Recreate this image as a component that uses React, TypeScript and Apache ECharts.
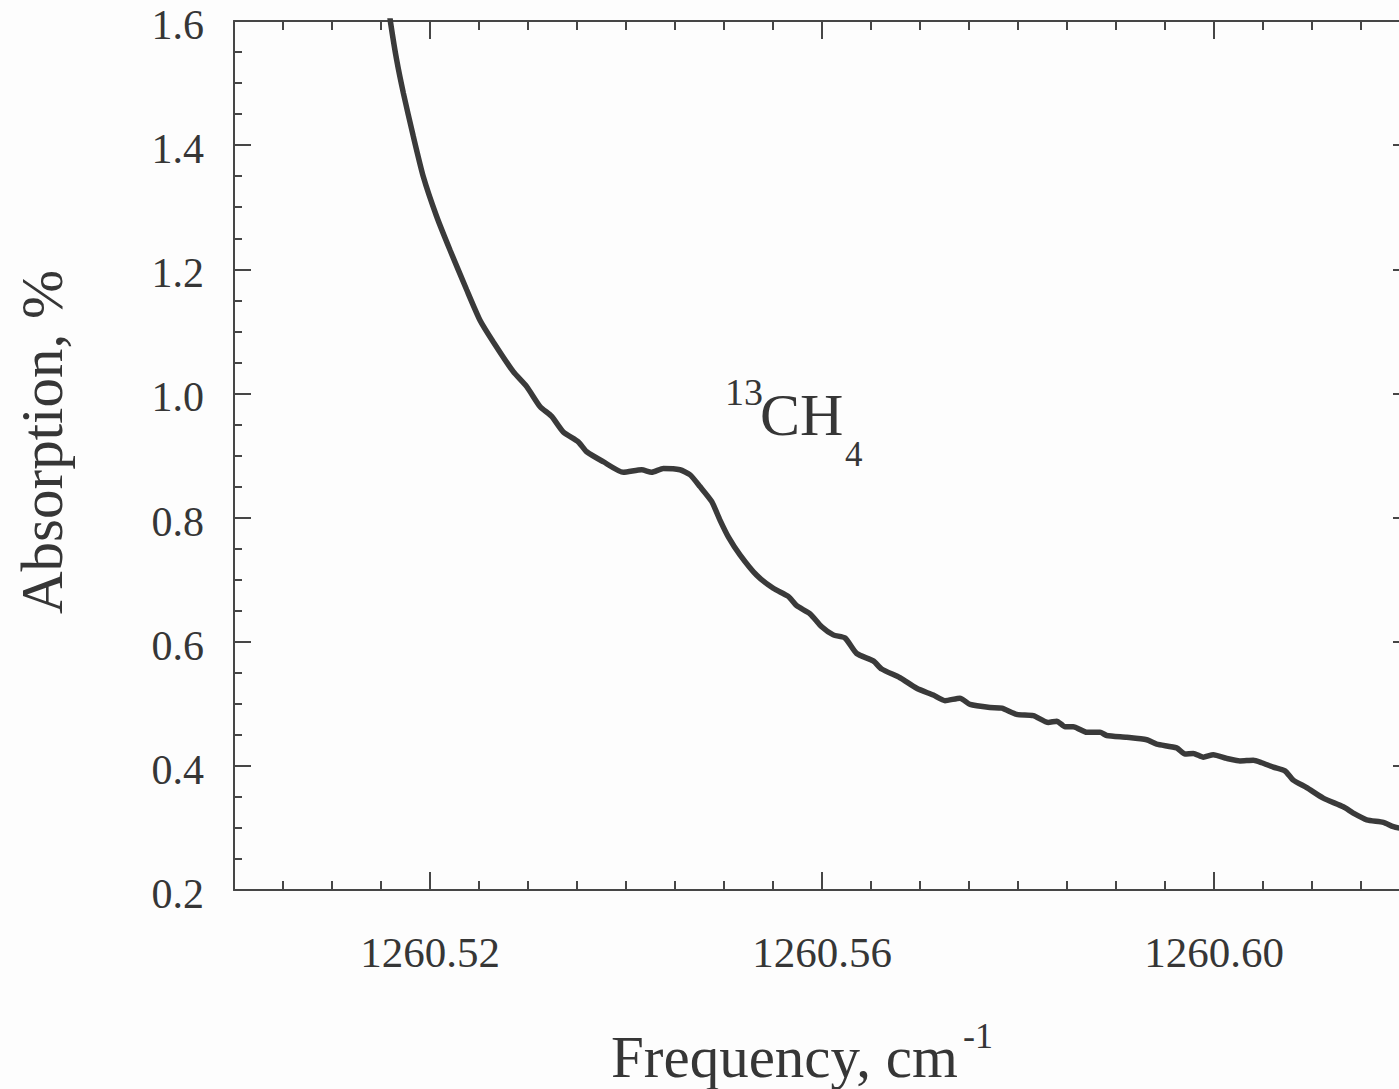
import React, { useEffect, useRef } from "react";
import * as echarts from "echarts";

// Frequency (cm^-1) and absorption (%)
const frequency = [
  1260.51582, 1260.51599, 1260.5166, 1260.51728, 1260.5183, 1260.51932, 1260.52068, 1260.52204,
  1260.52374, 1260.5251, 1260.52646, 1260.5285, 1260.52987, 1260.53122, 1260.53242, 1260.5336,
  1260.53513, 1260.53599, 1260.53768, 1260.53973, 1260.5416, 1260.54262, 1260.54381, 1260.54551,
  1260.54653, 1260.54755, 1260.54874, 1260.54959, 1260.55044, 1260.55163, 1260.55334, 1260.55503,
  1260.55656, 1260.55742, 1260.55878, 1260.55997, 1260.56115, 1260.56235, 1260.56354, 1260.56523,
  1260.56609, 1260.56796, 1260.56966, 1260.57136, 1260.57255, 1260.57408, 1260.5751, 1260.57714,
  1260.57834, 1260.57987, 1260.58156, 1260.58309, 1260.58395, 1260.5848, 1260.58564, 1260.58701,
  1260.58837, 1260.58905, 1260.59109, 1260.59313, 1260.59415, 1260.59619, 1260.59704, 1260.59789,
  1260.59891, 1260.59993, 1260.6013, 1260.60265, 1260.60401, 1260.60487, 1260.60605, 1260.60724,
  1260.60809, 1260.60946, 1260.61115, 1260.61319, 1260.61421, 1260.61558, 1260.61728, 1260.6183,
  1260.61949,
];
const absorption = [
  1.618, 1.596, 1.537, 1.484, 1.414, 1.349, 1.285, 1.231,
  1.167, 1.118, 1.083, 1.035, 1.011, 0.979, 0.963, 0.938,
  0.922, 0.906, 0.89, 0.873, 0.877, 0.873, 0.879, 0.877,
  0.869, 0.85, 0.826, 0.796, 0.769, 0.74, 0.707, 0.686,
  0.673, 0.658, 0.645, 0.624, 0.611, 0.606, 0.581, 0.569,
  0.556, 0.542, 0.525, 0.514, 0.505, 0.509, 0.499, 0.494,
  0.493, 0.483, 0.481, 0.47, 0.472, 0.463, 0.463, 0.454,
  0.454, 0.449, 0.446, 0.442, 0.435, 0.429, 0.419, 0.42,
  0.414, 0.418, 0.412, 0.408, 0.409, 0.405, 0.398, 0.392,
  0.377, 0.365, 0.348, 0.334, 0.324, 0.313, 0.309, 0.302,
  0.298,
];

const xMin = 1260.5;
const xMax = 1260.62;
const xLabelTicks = [1260.52, 1260.56, 1260.6];
const yMin = 0.2;
const yMax = 1.6;

const FONT = "'Liberation Serif', 'Times New Roman', serif";
const INK = "#363636";
const AXIS = "#464646";

export default function App() {
  const ref = useRef<HTMLDivElement>(null);

  useEffect(() => {
    if (!ref.current) return;
    const chart = echarts.init(ref.current, undefined, { renderer: "svg" });

    const axisLine = { show: true, lineStyle: { color: AXIS, width: 2 } };
    const minorX = (position: "bottom" | "top") => ({
      type: "value",
      position,
      min: xMin,
      max: xMax,
      interval: 0.005,
      axisLine,
      axisTick: { show: true, inside: true, length: 9, lineStyle: { color: AXIS, width: 2 } },
      axisLabel: { show: false },
      splitLine: { show: false },
    });
    const majorX = (position: "bottom" | "top", labels: boolean) => ({
      type: "value",
      position,
      min: xMin,
      max: xMax,
      axisLine: { show: false },
      axisTick: {
        show: true,
        inside: true,
        length: 18,
        customValues: xLabelTicks,
        lineStyle: { color: AXIS, width: 2 },
      },
      axisLabel: {
        show: labels,
        customValues: xLabelTicks,
        formatter: (v: number) => v.toFixed(2),
        margin: 41,
        fontSize: 43,
        fontFamily: FONT,
        color: INK,
      },
      splitLine: { show: false },
    });
    const minorY = (position: "left" | "right") => ({
      type: "value",
      position,
      min: yMin,
      max: yMax,
      interval: 0.05,
      axisLine,
      axisTick: { show: true, inside: true, length: 8, lineStyle: { color: AXIS, width: 2 } },
      axisLabel: { show: false },
      splitLine: { show: false },
    });
    const majorY = (position: "left" | "right", labels: boolean) => ({
      type: "value",
      position,
      min: yMin,
      max: yMax,
      interval: 0.2,
      axisLine: { show: false },
      axisTick: { show: true, inside: true, length: 17, lineStyle: { color: AXIS, width: 2 } },
      axisLabel: {
        show: labels,
        formatter: (v: number) => v.toFixed(1),
        margin: 30,
        fontSize: 42,
        verticalAlign: "top",
        lineHeight: 8,
        fontFamily: FONT,
        color: INK,
      },
      splitLine: { show: false },
    });

    chart.setOption({
      animation: false,
      backgroundColor: "#fdfdfd",
      grid: { left: 234, right: 1, top: 21, bottom: 199, containLabel: false },
      xAxis: [minorX("bottom"), majorX("bottom", true), minorX("top"), majorX("top", false)],
      yAxis: [minorY("left"), majorY("left", true), minorY("right"), majorY("right", false)],
      series: [
        {
          type: "line",
          xAxisIndex: 0,
          yAxisIndex: 0,
          data: frequency.map((f, i) => [f, absorption[i]]),
          showSymbol: false,
          smooth: 0.2,
          clip: true,
          lineStyle: { color: "#3a3a3a", width: 5.5 },
        },
      ],
      graphic: [
        {
          type: "text",
          x: 42,
          y: 442,
          rotation: Math.PI / 2,
          style: {
            text: "Absorption, %",
            font: `59px ${FONT}`,
            fill: INK,
            textAlign: "center",
            textVerticalAlign: "middle",
          },
        },
        {
          type: "text",
          x: 611,
          y: 1057,
          style: {
            text: "Frequency, cm",
            font: `59px ${FONT}`,
            fill: INK,
            textAlign: "left",
            textVerticalAlign: "middle",
          },
        },
        {
          type: "text",
          x: 963,
          y: 1036,
          style: {
            text: "-1",
            font: `36px ${FONT}`,
            fill: INK,
            textAlign: "left",
            textVerticalAlign: "middle",
          },
        },
        {
          type: "text",
          x: 725,
          y: 392,
          style: {
            text: "13",
            font: `38px ${FONT}`,
            fill: INK,
            textAlign: "left",
            textVerticalAlign: "middle",
          },
        },
        {
          type: "text",
          x: 760,
          y: 415,
          style: {
            text: "CH",
            font: `60px ${FONT}`,
            fill: INK,
            textAlign: "left",
            textVerticalAlign: "middle",
          },
        },
        {
          type: "text",
          x: 845,
          y: 454,
          style: {
            text: "4",
            font: `35px ${FONT}`,
            fill: INK,
            textAlign: "left",
            textVerticalAlign: "middle",
          },
        },
      ],
    });

    return () => chart.dispose();
  }, []);

  return (
    <div
      style={{
        position: "fixed",
        left: 0,
        top: 0,
        width: 1399,
        height: 1089,
        overflow: "hidden",
        background: "#fdfdfd",
      }}
    >
      <div ref={ref} style={{ width: 1411, height: 1089 }} />
    </div>
  );
}
